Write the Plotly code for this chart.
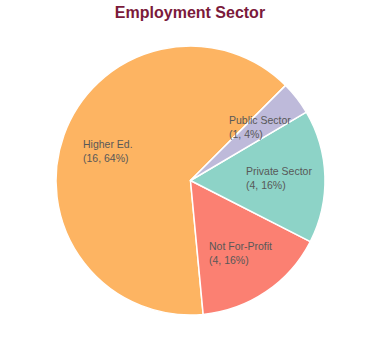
import math
import plotly.graph_objects as go

# ---- data ----
sectors = ["Higher Ed.", "Not For-Profit", "Private Sector", "Public Sector"]
counts = [16, 4, 4, 1]
colors = ["#fdb462", "#fb8072", "#8dd3c7", "#bebada"]

W, H = 380, 360
cx, cy, R = 190.5, 180.5, 134.5
rotation = 174.6

fig = go.Figure(go.Pie(
    labels=sectors,
    values=counts,
    sort=False,
    direction="counterclockwise",
    rotation=rotation,
    marker=dict(colors=colors, line=dict(color="white", width=1.5)),
    textinfo="none",
    hoverinfo="label+value+percent",
    showlegend=False,
    domain=dict(x=[(cx - R) / W, (cx + R) / W], y=[1 - (cy + R) / H, 1 - (cy - R) / H]),
))

# labels placed at slice mid-angles (computed from data)
total = sum(counts)
start = rotation + 360 * counts[0] / total
ang = start
annotations = []
for lab, v in zip(sectors, counts):
    span = 360 * v / total
    mid = ang - span / 2
    ang -= span
    rr = 0.655 * R
    px = cx + rr * math.sin(math.radians(mid))
    py = cy - rr * math.cos(math.radians(mid))
    pct = round(100 * v / total)
    annotations.append(dict(
        x=px / W, y=1 - py / H, xref="paper", yref="paper",
        text=f"{lab}<br>({v}, {pct}%)", showarrow=False,
        xanchor="center", yanchor="middle", align="left",
        font=dict(family="Liberation Sans, Arial, sans-serif", size=10.5, color="#585858"),
    ))

fig.update_layout(
    width=W, height=H,
    margin=dict(l=0, r=0, t=0, b=0),
    paper_bgcolor="white",
    title=dict(text="Employment Sector", x=0.5, xanchor="center",
               y=1 - 12.5 / H, yanchor="middle",
               font=dict(family="Liberation Sans, Arial, sans-serif", size=16,
                         color="#7b1a3b", weight="bold")),
    annotations=annotations,
)

fig.write_html("out.html")
